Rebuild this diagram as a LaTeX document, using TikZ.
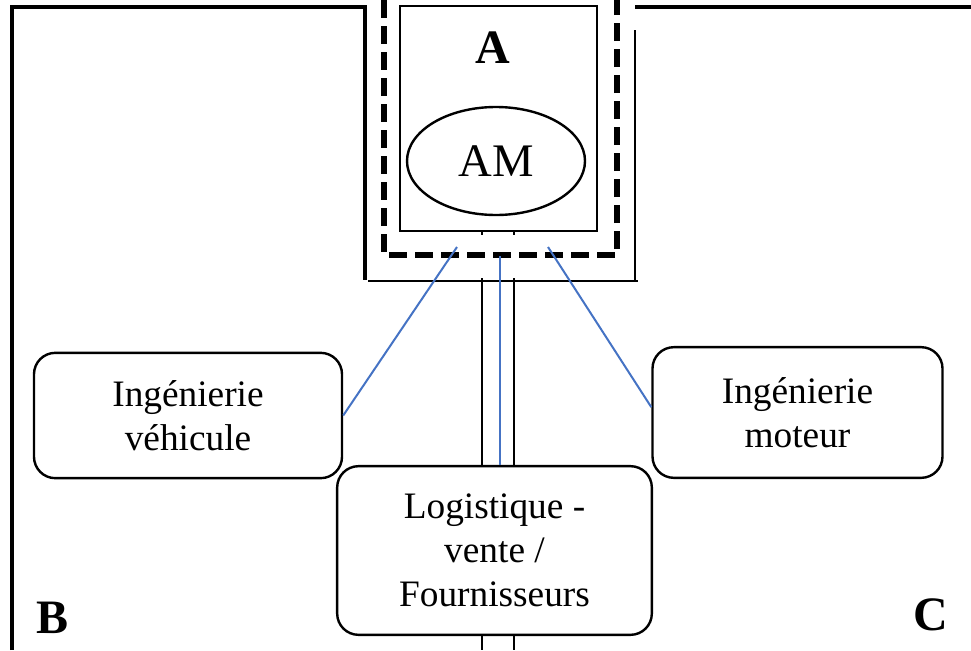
\documentclass[tikz,border=0pt]{standalone}
\usepackage{fontspec}
\setmainfont{Liberation Serif}
\usetikzlibrary{arrows,positioning}
\usetikzlibrary{shapes.geometric}
\definecolor{linkblue}{rgb}{0.27, 0.45, 0.77}

\tikzset{
	frame/.style={color=black, line width=1.8pt},
	service/.style={draw, rounded corners=16pt, line width=1.8pt, align=center, inner sep=0pt, font=\fontsize{28}{33}\selectfont},
	corner/.style={font=\fontsize{36}{40}\selectfont\bfseries, inner sep=0pt},
	link/.style={color=linkblue, line width=1.5pt},
	pipe/.style={color=black, line width=1.8pt}
}

\begin{document}
\begin{tikzpicture}[x=0.75pt,y=0.75pt,yscale=-1,xscale=1]
		\useasboundingbox (0,0) rectangle (971,650);
		
		%Shape: outer frame
		\draw [frame, line width=2.4pt] (12,650) -- (12,7) -- (365,7) -- (365,280) ;
		\draw [frame] (368,281) -- (638,281) ;
		\draw [frame, line width=2.4pt] (635,7) -- (971,7) ;
		\draw [frame] (635,30) -- (635,281) ;
		%Shape: dashed zone
		\draw [color=black, line width=3.8pt, dash pattern={on 13.5pt off 6pt}] (384,0) -- (384,255) -- (617,255) -- (617,0) ;
		%Shape: box A
		\draw [color=black, line width=1.8pt] (400,6) rectangle (597,231) ;
		\draw [pipe] (482,231) -- (482,235) (514,231) -- (514,235) ;
		
		% Text Node
		\node (lblA) [corner] at (493,48) {A};
		% Ellipse
		\node (am) [draw, ellipse, line width=1.8pt, minimum width=133.5pt, minimum height=81pt, inner sep=0pt, font=\fontsize{35}{40}\selectfont] at (496,161) {AM};
		
		% Service boxes
		\node (veh) [service, minimum width=231pt, minimum height=94pt] at (188,415.5) {Ingénierie\\véhicule};
		\node (mot) [service, minimum width=217.5pt, minimum height=98pt] at (797.5,412.5) {Ingénierie\\moteur};
		\node (log) [service, minimum width=236pt, minimum height=126.5pt] at (494.5,550.5) {Logistique -\\vente /\\Fournisseurs};
		
		% Text Node
		\node (lblB) [corner] at (53,618) {B};
		% Text Node
		\node (lblC) [corner] at (931,615) {C};
		
		%Straight Lines: double pipe
		\coordinate (pl) at (482,278);
		\coordinate (pr) at (514,278);
		\draw [pipe] (pl) -- (pl |- log.north) (pr) -- (pr |- log.north) ;
		\draw [pipe] (pl |- log.south) -- (482,650) (pr |- log.south) -- (514,650) ;
		
		%Straight Lines: blue links
		\coordinate (dl) at (457,247);
		\coordinate (dc) at (500,256);
		\coordinate (dr) at (548,247);
		\draw [link] (dl) -- (veh.east) ;
		\draw [link] (dc) -- (dc |- log.north) ;
		\draw [link] (dr) -- ([yshift=-4pt]mot.west) ;
		
\end{tikzpicture}
\end{document}
